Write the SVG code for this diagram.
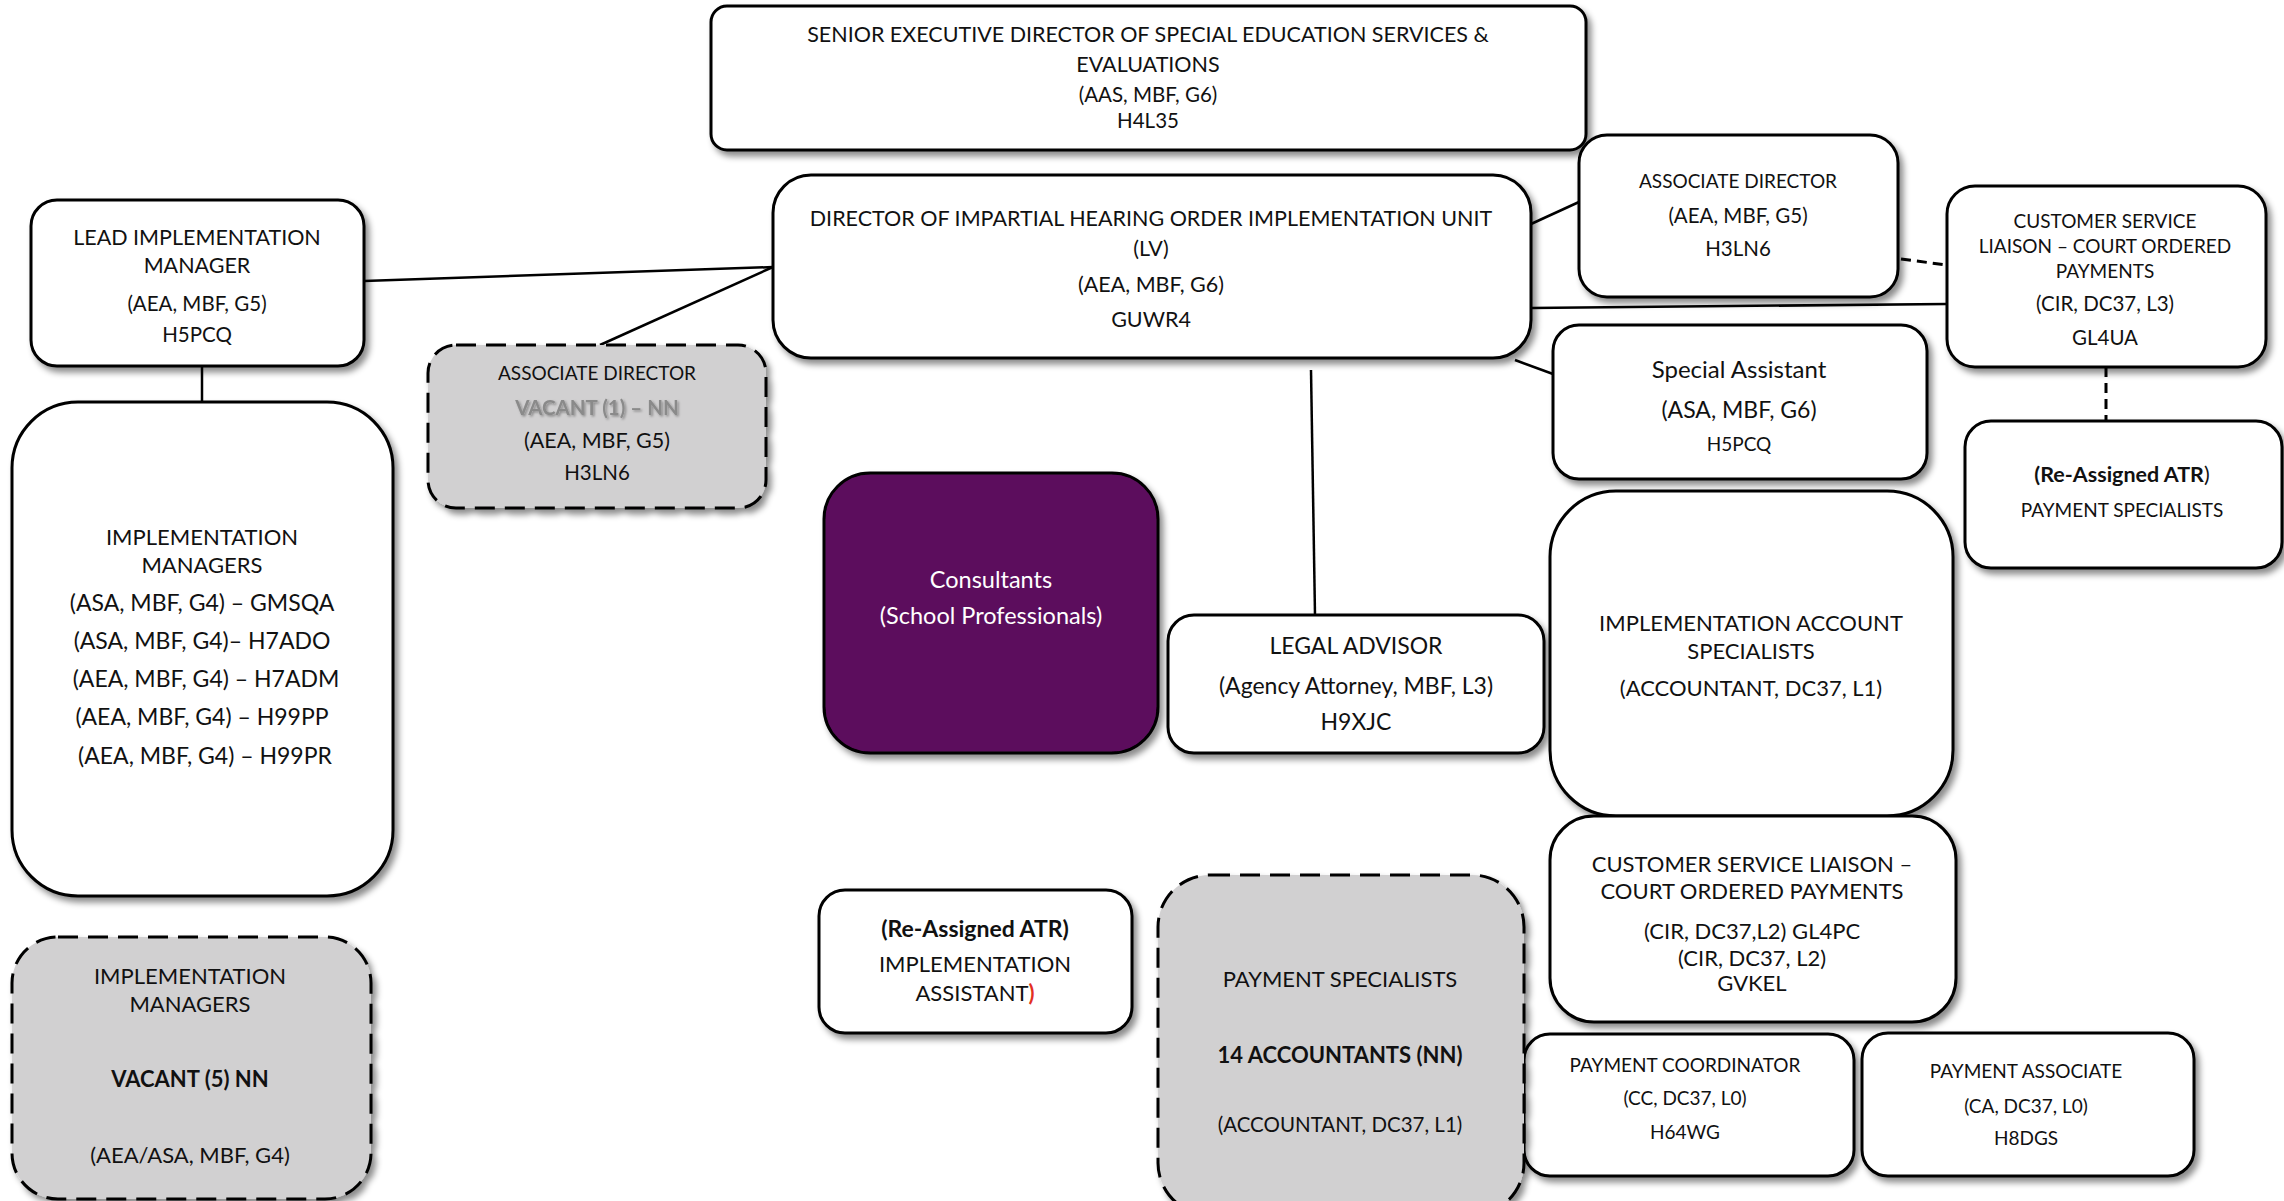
<svg xmlns="http://www.w3.org/2000/svg" width="2284" height="1201" viewBox="0 0 2284 1201">
  <defs>
    <filter id="shadow" x="-10%" y="-10%" width="130%" height="130%">
      <feDropShadow dx="4" dy="5" stdDeviation="3" flood-color="#000" flood-opacity="0.45"/>
    </filter>
    <filter id="textShadow" x="-10%" y="-30%" width="120%" height="160%">
      <feDropShadow dx="1.5" dy="1.5" stdDeviation="1" flood-color="#000" flood-opacity="0.35"/>
    </filter>
  </defs>
  <style>
    .box { fill: #ffffff; stroke: #000; stroke-width: 3; filter: url(#shadow); }
    .vacant { fill: #d1d0d1; stroke: #000; stroke-width: 3; stroke-dasharray: 20 10; filter: url(#shadow); }
    .purple { fill: #5c0e5d; stroke: #000; stroke-width: 3; filter: url(#shadow); }
    text { font-family: Lato, "Liberation Sans", sans-serif; font-size: 19px; fill: #111; text-anchor: middle; }
    .s20 { font-size: 20.5px; }
    .s21 { font-size: 21.5px; }
    .big { font-size: 22px; }
    .s23 { font-size: 23px; }
    .bold { font-weight: bold; }
    .white { fill: #ffffff; font-size: 23.5px; }
    .grey { fill: #8a8a8a; font-weight: bold; filter: url(#textShadow); }
    .red { fill: #e3301f; font-weight: bold; }
    .link { stroke: #000; stroke-width: 2.5; fill: none; }
    .dashed { stroke: #000; stroke-width: 3; fill: none; stroke-dasharray: 10 6; }
  </style>

  <!-- connectors -->
  <g id="connectors">
    <line class="link" x1="364" y1="281" x2="773" y2="267"/>
    <line class="link" x1="773" y1="267" x2="600" y2="345"/>
    <line class="link" x1="202" y1="366" x2="202" y2="402"/>
    <line class="link" x1="1531" y1="224" x2="1579" y2="202"/>
    <line class="link" x1="1531" y1="308" x2="1947" y2="304"/>
    <line class="link" x1="1515" y1="360" x2="1553" y2="374"/>
    <line class="link" x1="1311" y1="370" x2="1315" y2="615"/>
    <line class="dashed" x1="1901" y1="259" x2="1947" y2="265"/>
    <line class="dashed" x1="2106" y1="335" x2="2106" y2="424"/>
  </g>

  <!-- senior executive director -->
  <g id="senior-executive-director">
    <rect class="box" x="711" y="6" width="875" height="144" rx="16"/>
    <text class="s21" x="1148" y="42">SENIOR EXECUTIVE DIRECTOR OF SPECIAL EDUCATION SERVICES &amp;</text>
    <text class="s21" x="1148" y="72">EVALUATIONS</text>
    <text class="s20" x="1148" y="102">(AAS, MBF, G6)</text>
    <text class="s20" x="1148" y="128">H4L35</text>
  </g>

  <!-- director -->
  <g id="director">
    <rect class="box" x="773" y="175" width="758" height="183" rx="38"/>
    <text class="s21" x="1151" y="226">DIRECTOR OF IMPARTIAL HEARING ORDER IMPLEMENTATION UNIT</text>
    <text class="s21" x="1151" y="256">(LV)</text>
    <text class="s21" x="1151" y="292">(AEA, MBF, G6)</text>
    <text class="s21" x="1151" y="327">GUWR4</text>
  </g>

  <!-- lead implementation manager -->
  <g id="lead-implementation-manager">
    <rect class="box" x="31" y="200" width="333" height="166" rx="26"/>
    <text class="s21" x="197" y="245">LEAD IMPLEMENTATION</text>
    <text class="s21" x="197" y="273">MANAGER</text>
    <text class="s20" x="197" y="311">(AEA, MBF, G5)</text>
    <text class="s20" x="197" y="342">H5PCQ</text>
  </g>

  <!-- associate director (vacant) -->
  <g id="associate-director-vacant">
    <rect class="vacant" x="428" y="345" width="338" height="163" rx="28"/>
    <text x="597" y="380">ASSOCIATE DIRECTOR</text>
    <text class="grey s20" x="597" y="415">VACANT (1) – NN</text>
    <text class="s21" x="597" y="448">(AEA, MBF, G5)</text>
    <text class="s20" x="597" y="480">H3LN6</text>
  </g>

  <!-- implementation managers -->
  <g id="implementation-managers">
    <rect class="box" x="12" y="402" width="381" height="494" rx="66"/>
    <text class="big" x="202" y="545">IMPLEMENTATION</text>
    <text class="big" x="202" y="573">MANAGERS</text>
    <text class="s23" x="202" y="611">(ASA, MBF, G4) – GMSQA</text>
    <text class="s23" x="202" y="649">(ASA, MBF, G4)– H7ADO</text>
    <text class="s23" x="206" y="687">(AEA, MBF, G4) – H7ADM</text>
    <text class="s23" x="202" y="725">(AEA, MBF, G4) – H99PP</text>
    <text class="s23" x="205" y="764">(AEA, MBF, G4) – H99PR</text>
  </g>

  <!-- implementation managers (vacant) -->
  <g id="implementation-managers-vacant">
    <rect class="vacant" x="12" y="937" width="359" height="262" rx="46"/>
    <text class="big" x="190" y="984">IMPLEMENTATION</text>
    <text class="big" x="190" y="1012">MANAGERS</text>
    <text class="big bold" x="190" y="1087">VACANT (5) NN</text>
    <text class="big" x="190" y="1163">(AEA/ASA, MBF, G4)</text>
  </g>

  <!-- consultants -->
  <g id="consultants">
    <rect class="purple" x="824" y="473" width="334" height="280" rx="46"/>
    <text class="white" x="991" y="588">Consultants</text>
    <text class="white" x="991" y="624">(School Professionals)</text>
  </g>

  <!-- legal advisor -->
  <g id="legal-advisor">
    <rect class="box" x="1168" y="615" width="376" height="138" rx="26"/>
    <text class="s23" x="1356" y="654">LEGAL ADVISOR</text>
    <text class="s23" x="1356" y="694">(Agency Attorney, MBF, L3)</text>
    <text class="s23" x="1356" y="730">H9XJC</text>
  </g>

  <!-- associate director -->
  <g id="associate-director">
    <rect class="box" x="1579" y="135" width="319" height="162" rx="28"/>
    <text x="1738" y="188">ASSOCIATE DIRECTOR</text>
    <text class="s20" x="1738" y="223">(AEA, MBF, G5)</text>
    <text class="s20" x="1738" y="256">H3LN6</text>
  </g>

  <!-- special assistant -->
  <g id="special-assistant">
    <rect class="box" x="1553" y="325" width="374" height="154" rx="26"/>
    <text x="1739" y="378" style="font-size:24px">Special Assistant</text>
    <text class="s23" x="1739" y="418">(ASA, MBF, G6)</text>
    <text x="1739" y="451">H5PCQ</text>
  </g>

  <!-- customer service liaison (GL4UA) -->
  <g id="customer-service-liaison-gl4ua">
    <rect class="box" x="1947" y="186" width="319" height="181" rx="28"/>
    <text x="2105" y="228">CUSTOMER SERVICE</text>
    <text x="2105" y="253">LIAISON – COURT ORDERED</text>
    <text x="2105" y="278">PAYMENTS</text>
    <text class="s20" x="2105" y="311">(CIR, DC37, L3)</text>
    <text class="s20" x="2105" y="345">GL4UA</text>
  </g>

  <!-- re-assigned ATR payment specialists -->
  <g id="reassigned-payment-specialists">
    <rect class="box" x="1965" y="421" width="317" height="147" rx="26"/>
    <text class="s21" x="2122" y="482"><tspan class="bold">(Re-Assigned ATR</tspan>)</text>
    <text x="2122" y="517">PAYMENT SPECIALISTS</text>
  </g>

  <!-- implementation account specialists -->
  <g id="implementation-account-specialists">
    <rect class="box" x="1550" y="491" width="403" height="325" rx="66"/>
    <text class="big" x="1751" y="631">IMPLEMENTATION ACCOUNT</text>
    <text class="big" x="1751" y="659">SPECIALISTS</text>
    <text class="big" x="1751" y="696">(ACCOUNTANT, DC37, L1)</text>
  </g>

  <!-- customer service liaison (GL4PC / GVKEL) -->
  <g id="customer-service-liaison-gl4pc">
    <rect class="box" x="1550" y="816" width="406" height="206" rx="44"/>
    <text class="big" x="1752" y="872">CUSTOMER SERVICE LIAISON –</text>
    <text class="big" x="1752" y="899">COURT ORDERED PAYMENTS</text>
    <text class="big" x="1752" y="939">(CIR, DC37,L2) GL4PC</text>
    <text class="big" x="1752" y="966">(CIR, DC37, L2)</text>
    <text class="big" x="1752" y="991">GVKEL</text>
  </g>

  <!-- payment coordinator -->
  <g id="payment-coordinator">
    <rect class="box" x="1524" y="1034" width="330" height="142" rx="26"/>
    <text x="1685" y="1072">PAYMENT COORDINATOR</text>
    <text x="1685" y="1105">(CC, DC37, L0)</text>
    <text x="1685" y="1139">H64WG</text>
  </g>

  <!-- payment associate -->
  <g id="payment-associate">
    <rect class="box" x="1862" y="1033" width="332" height="143" rx="26"/>
    <text x="2026" y="1078">PAYMENT ASSOCIATE</text>
    <text x="2026" y="1113">(CA, DC37, L0)</text>
    <text x="2026" y="1145">H8DGS</text>
  </g>

  <!-- payment specialists (vacant) -->
  <g id="payment-specialists-vacant">
    <rect class="vacant" x="1158" y="875" width="366" height="340" rx="52"/>
    <text class="big" x="1340" y="987">PAYMENT SPECIALISTS</text>
    <text class="big bold" x="1340" y="1063">14 ACCOUNTANTS (NN)</text>
    <text class="s20" x="1340" y="1132">(ACCOUNTANT, DC37, L1)</text>
  </g>

  <!-- re-assigned ATR implementation assistant -->
  <g id="reassigned-implementation-assistant">
    <rect class="box" x="819" y="890" width="313" height="143" rx="26"/>
    <text class="s23 bold" x="975" y="937">(Re-Assigned ATR)</text>
    <text class="big" x="975" y="972">IMPLEMENTATION</text>
    <text class="big" x="975" y="1001">ASSISTANT<tspan class="red">)</tspan></text>
  </g>
</svg>
